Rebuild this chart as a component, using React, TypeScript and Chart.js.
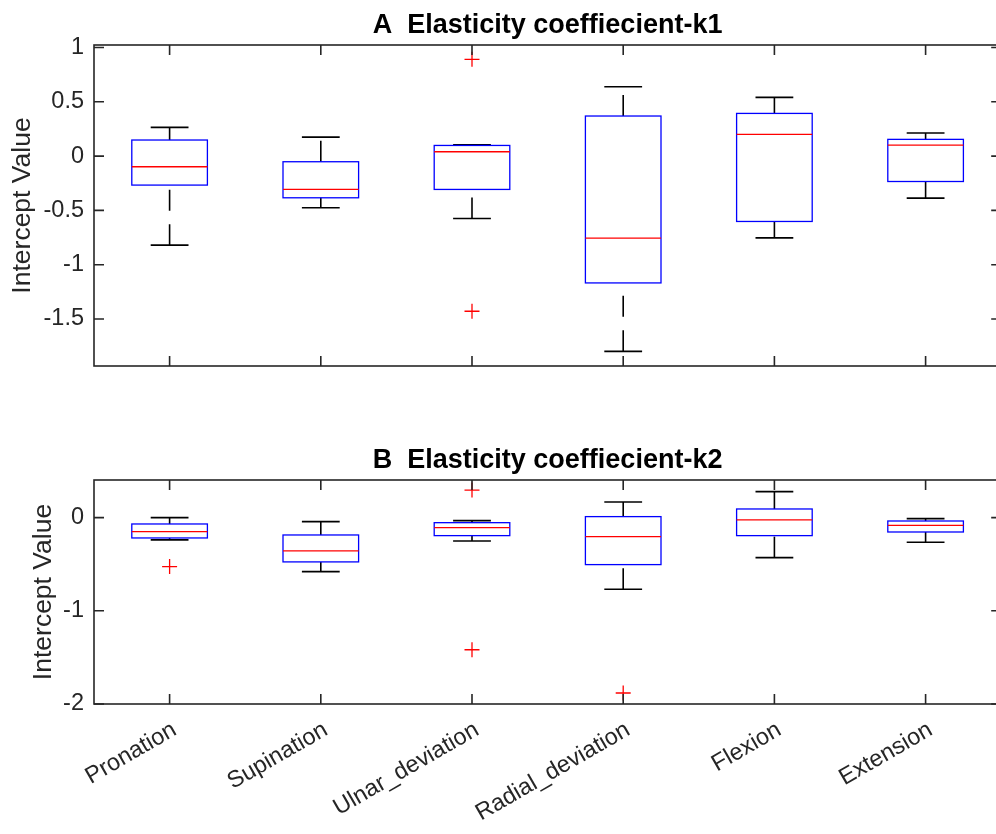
import React, { useEffect, useRef } from 'react';
import { Chart, registerables } from 'chart.js';

Chart.register(...registerables);

// ---------- data ----------
const categories = ['Pronation', 'Supination', 'Ulnar_deviation', 'Radial_deviation', 'Flexion', 'Extension'];
const positions = [1, 2, 3, 4, 5, 6];

// Panel A: Elasticity coeffiecient-k1
const k1Lower = [-0.820, -0.476, -0.575, -1.798, -0.753, -0.387];
const k1Q1 = [-0.267, -0.384, -0.307, -1.168, -0.602, -0.234];
const k1Median = [-0.098, -0.307, 0.040, -0.756, 0.200, 0.101];
const k1Q3 = [0.148, -0.052, 0.098, 0.369, 0.393, 0.154];
const k1Upper = [0.264, 0.175, 0.104, 0.639, 0.541, 0.212];
const k1OutlierX = [3, 3];
const k1OutlierY = [0.891, -1.429];
const k1Ticks = [-1.5, -1, -0.5, 0, 0.5, 1];
const k1Range = [-1.933, 1.023];

// Panel B: Elasticity coeffiecient-k2
const k2Lower = [-0.239, -0.579, -0.250, -0.768, -0.429, -0.264];
const k2Q1 = [-0.218, -0.475, -0.193, -0.504, -0.193, -0.154];
const k2Median = [-0.150, -0.357, -0.107, -0.204, -0.025, -0.082];
const k2Q3 = [-0.068, -0.186, -0.054, 0.011, 0.093, -0.036];
const k2Upper = [0.0, -0.043, -0.032, 0.168, 0.279, -0.011];
const k2OutlierX = [1, 3, 3, 4];
const k2OutlierY = [-0.525, 0.296, -1.418, -1.882];
const k2Ticks = [-2, -1, 0];
const k2Range = [-2, 0.404];

const xRange = [0.5, 6.5];

const FONT = '"Liberation Sans", Arial, Helvetica, sans-serif';
const AXIS_COLOR = '#262626';

type Stats = {
  lower: number[];
  q1: number[];
  median: number[];
  q3: number[];
  upper: number[];
};

function makeBoxPlugin(stats: Stats, title: string) {
  return {
    id: 'matlabBoxplot',
    beforeDatasetsDraw(chart: any) {
      const { ctx } = chart;
      const xs = chart.scales.x;
      const ys = chart.scales.y;
      const line = (x1: number, y1: number, x2: number, y2: number) => {
        ctx.beginPath();
        ctx.moveTo(x1, y1);
        ctx.lineTo(x2, y2);
        ctx.stroke();
      };
      ctx.save();
      for (let i = 0; i < positions.length; i++) {
        const p = positions[i];
        const xc = xs.getPixelForValue(p);
        const xl = xs.getPixelForValue(p - 0.25);
        const xr = xs.getPixelForValue(p + 0.25);
        const cl = xs.getPixelForValue(p - 0.125);
        const cr = xs.getPixelForValue(p + 0.125);
        const yLo = ys.getPixelForValue(stats.lower[i]);
        const yQ1 = ys.getPixelForValue(stats.q1[i]);
        const yMed = ys.getPixelForValue(stats.median[i]);
        const yQ3 = ys.getPixelForValue(stats.q3[i]);
        const yHi = ys.getPixelForValue(stats.upper[i]);
        // whiskers (dashed)
        ctx.strokeStyle = '#000000';
        ctx.lineWidth = 1.6;
        ctx.setLineDash([21, 13.5]);
        line(xc, yLo, xc, yQ1);
        line(xc, yQ3, xc, yHi);
        ctx.setLineDash([]);
        // caps
        line(cl, yLo, cr, yLo);
        line(cl, yHi, cr, yHi);
        // box
        ctx.strokeStyle = '#0000ff';
        ctx.lineWidth = 1.3;
        ctx.strokeRect(xl, yQ3, xr - xl, yQ1 - yQ3);
        // median
        ctx.strokeStyle = '#ff0000';
        line(xl, yMed, xr, yMed);
      }
      ctx.restore();
    },
    afterDraw(chart: any) {
      const { ctx, chartArea } = chart;
      const xs = chart.scales.x;
      const ys = chart.scales.y;
      const { left, right, top, bottom } = chartArea;
      ctx.save();
      ctx.strokeStyle = AXIS_COLOR;
      ctx.lineWidth = 1.6;
      ctx.strokeRect(left, top, right - left, bottom - top);
      const tl = 10;
      ctx.beginPath();
      xs.ticks.forEach((t: any) => {
        const x = xs.getPixelForValue(t.value);
        ctx.moveTo(x, bottom);
        ctx.lineTo(x, bottom - tl);
        ctx.moveTo(x, top);
        ctx.lineTo(x, top + tl);
      });
      ys.ticks.forEach((t: any) => {
        const y = ys.getPixelForValue(t.value);
        ctx.moveTo(left, y);
        ctx.lineTo(left + tl, y);
        ctx.moveTo(right, y);
        ctx.lineTo(right - tl, y);
      });
      ctx.stroke();
      // title centred on the axes
      ctx.fillStyle = '#000000';
      ctx.font = `bold 27px ${FONT}`;
      ctx.textAlign = 'center';
      ctx.textBaseline = 'alphabetic';
      ctx.fillText(title, (left + right) / 2, top - 12);
      ctx.restore();
    },
  };
}

type PanelProps = {
  title: string;
  stats: Stats;
  outX: number[];
  outY: number[];
  yTicks: number[];
  yRange: number[];
  showXLabels: boolean;
  width: number;
  height: number;
  padTop: number;
  padBottom: number;
  xAxisHeight: number;
  yTitlePad: number;
  top: number;
};

function BoxPanel(props: PanelProps) {
  const ref = useRef<HTMLCanvasElement | null>(null);
  useEffect(() => {
    if (!ref.current) return;
    const outliers = props.outX.map((x, i) => ({ x, y: props.outY[i] }));
    const chart = new Chart(ref.current, {
      type: 'scatter',
      data: {
        datasets: [
          {
            data: outliers,
            pointStyle: 'cross',
            pointRadius: 7.5,
            pointHoverRadius: 7.5,
            borderColor: '#ff0000',
            backgroundColor: '#ff0000',
            borderWidth: 1.3,
          },
        ],
      },
      options: {
        animation: false,
        responsive: false,
        devicePixelRatio: 1,
        events: [],
        layout: { padding: { top: props.padTop, bottom: props.padBottom, left: 0, right: 6 } },
        plugins: {
          legend: { display: false },
          tooltip: { enabled: false },
          title: { display: false },
        },
        scales: {
          x: {
            type: 'linear',
            min: xRange[0],
            max: xRange[1],
            grid: { display: false, drawTicks: false },
            border: { display: false },
            afterBuildTicks: (s: any) => {
              s.ticks = positions.map((v) => ({ value: v }));
            },
            afterFit: (s: any) => {
              s.height = props.xAxisHeight;
            },
            ticks: {
              display: props.showXLabels,
              autoSkip: false,
              minRotation: 30,
              maxRotation: 30,
              padding: 12,
              labelOffset: 5,
              color: AXIS_COLOR,
              font: { family: FONT, size: 23.5 },
              callback: (_v: any, i: number) => categories[i],
            },
          },
          y: {
            type: 'linear',
            min: props.yRange[0],
            max: props.yRange[1],
            grid: { display: false, drawTicks: false },
            border: { display: false },
            afterBuildTicks: (s: any) => {
              s.ticks = props.yTicks.map((v) => ({ value: v }));
            },
            afterFit: (s: any) => {
              s.width = 94;
            },
            ticks: {
              padding: 10,
              color: AXIS_COLOR,
              font: { family: FONT, size: 23.5 },
              callback: (v: any) => String(v),
            },
            title: {
              display: true,
              text: 'Intercept Value',
              color: AXIS_COLOR,
              font: { family: FONT, size: 26.5 },
              padding: { top: props.yTitlePad, bottom: 0 },
            },
          },
        },
      },
      plugins: [makeBoxPlugin(props.stats, props.title)],
    } as any);
    return () => chart.destroy();
  }, []);
  return (
    <canvas
      ref={ref}
      width={props.width}
      height={props.height}
      style={{ position: 'absolute', left: 0, top: props.top, display: 'block' }}
    />
  );
}

export default function App() {
  return (
    <div
      style={{
        position: 'absolute',
        left: 0,
        top: 0,
        width: 996,
        height: 834,
        overflow: 'hidden',
        background: '#ffffff',
      }}
    >
      <BoxPanel
        title="A  Elasticity coeffiecient-k1"
        stats={{ lower: k1Lower, q1: k1Q1, median: k1Median, q3: k1Q3, upper: k1Upper }}
        outX={k1OutlierX}
        outY={k1OutlierY}
        yTicks={k1Ticks}
        yRange={k1Range}
        showXLabels={false}
        width={1010}
        height={400}
        padTop={45}
        padBottom={34}
        xAxisHeight={0}
        yTitlePad={7}
        top={0}
      />
      <BoxPanel
        title="B  Elasticity coeffiecient-k2"
        stats={{ lower: k2Lower, q1: k2Q1, median: k2Median, q3: k2Q3, upper: k2Upper }}
        outX={k2OutlierX}
        outY={k2OutlierY}
        yTicks={k2Ticks}
        yRange={k2Range}
        showXLabels={true}
        width={1010}
        height={434}
        padTop={80}
        padBottom={0}
        xAxisHeight={130}
        yTitlePad={28}
        top={400}
      />
    </div>
  );
}
